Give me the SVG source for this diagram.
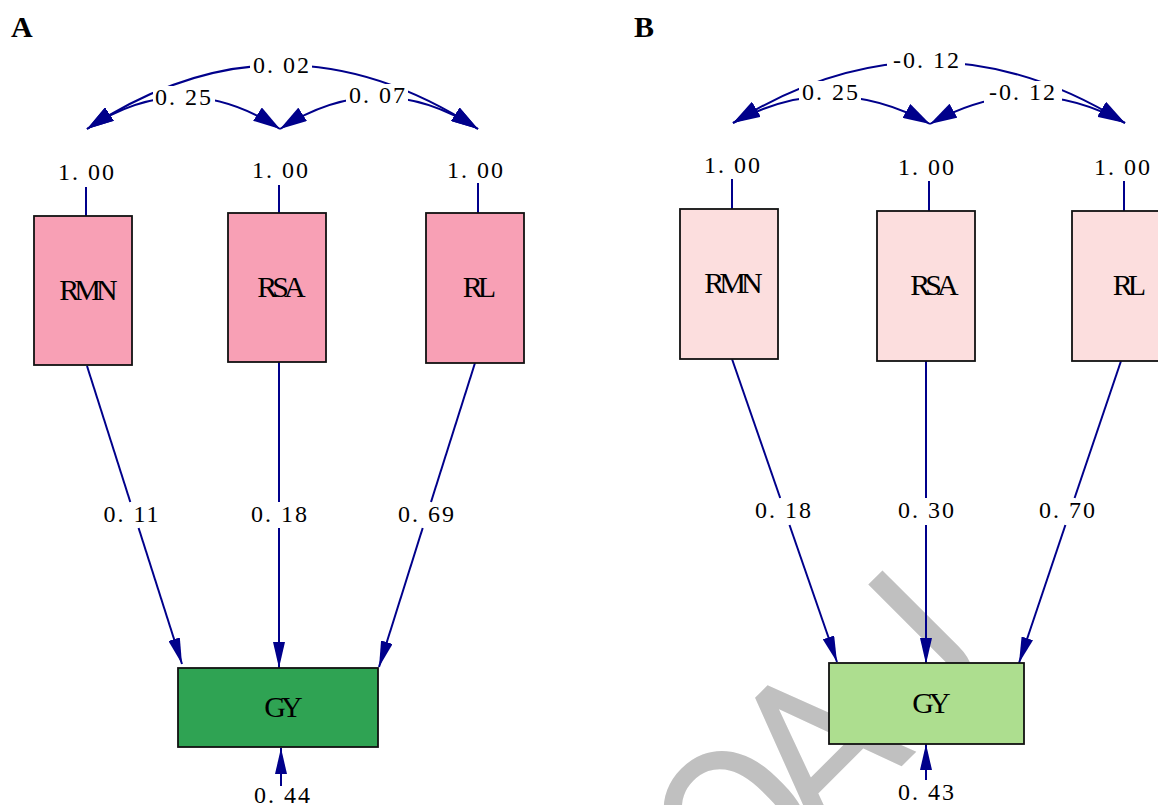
<svg xmlns="http://www.w3.org/2000/svg" width="1158" height="805" viewBox="0 0 1158 805">
  <style>
    .num { font-family: "Liberation Serif", "Times New Roman", serif; font-size: 24px; letter-spacing: 2px; fill: #000; text-anchor: middle; }
    .name { font-family: "Liberation Serif", "Times New Roman", serif; font-size: 30px; letter-spacing: -5px; fill: #000; text-anchor: middle; }
    .panel { font-family: "Liberation Serif", "Times New Roman", serif; font-size: 30px; font-weight: bold; fill: #000; }
    .box { stroke: #111; stroke-width: 1.8; }
    .obsA { fill: #F8A0B5; }
    .obsB { fill: #FCDEDE; }
    .gyA { fill: #2FA353; }
    .gyB { fill: #ADDE8F; }
    .edge { fill: none; stroke: #00008B; stroke-width: 2; }
    .path { marker-end: url(#arrow); }
    .cov { marker-start: url(#covhead); marker-end: url(#covhead); }
    .bg { fill: #fff; }
    .wm { font-family: Roboto, "Liberation Sans", sans-serif; font-size: 214px; fill: #C0C0C0; }
  </style>
  <defs>
    <!-- head for directed paths -->
    <marker id="arrow" markerUnits="userSpaceOnUse" markerWidth="26" markerHeight="12" refX="26" refY="6" orient="auto">
      <path d="M0,0 L26,6 L0,12 z" fill="#00008B"/>
    </marker>
    <!-- heavier head for two-headed covariance arcs -->
    <marker id="covhead" markerUnits="userSpaceOnUse" markerWidth="27" markerHeight="16" refX="27" refY="8" orient="auto-start-reverse">
      <path d="M0,0 L27,8 L0,16 z" fill="#00008B"/>
    </marker>
  </defs>

  <rect width="1158" height="805" fill="#fff"/>

  <!-- background watermark -->
  <g id="watermark">
    <text class="wm" x="717" y="951" transform="rotate(-45 717 951)"><tspan dx="30">O</tspan><tspan dx="-30">A</tspan>J</text>
  </g>

  <!-- panel letters -->
  <text class="panel" x="11" y="37">A</text>
  <text class="panel" x="634" y="37">B</text>

  <!-- connectors -->
  <g id="connectors">
    <!-- panel A: covariances -->
    <path class="edge cov" d="M87,129 Q281,1 478,129"/>
    <path class="edge cov" d="M87,129 Q183,65 280,129"/>
    <path class="edge cov" d="M280,129 Q379,65 478,129"/>
    <!-- panel A: variance ticks -->
    <path class="edge" d="M86,187 V216 M279,185 V213 M478,183 V213"/>
    <!-- panel A: paths to GY -->
    <path class="edge" d="M87,366 L130.3,502"/>
    <path class="edge path" d="M138.6,528 L182,664"/>
    <path class="edge" d="M279,362 V502"/>
    <path class="edge path" d="M279,528 V668"/>
    <path class="edge" d="M475,363 L431,502"/>
    <path class="edge path" d="M422.7,528 L379,667"/>
    <!-- panel A: residual -->
    <path class="edge path" d="M281,786 V748"/>

    <!-- panel B: covariances -->
    <path class="edge cov" d="M733,123 Q929,1 1125,123"/>
    <path class="edge cov" d="M733,123 Q831,69 930,124"/>
    <path class="edge cov" d="M930,124 Q1027,69 1125,123"/>
    <!-- panel B: variance ticks -->
    <path class="edge" d="M732,179 V209 M929,181 V211 M1124,181 V211"/>
    <!-- panel B: paths to GY -->
    <path class="edge" d="M732,359 L780.2,498"/>
    <path class="edge path" d="M789.5,525 L837,662"/>
    <path class="edge" d="M926,361 V498"/>
    <path class="edge path" d="M926,525 V664"/>
    <path class="edge" d="M1121,361 L1074.6,498"/>
    <path class="edge path" d="M1065.4,525 L1019,663"/>
    <!-- panel B: residual -->
    <path class="edge path" d="M926,780 V744"/>
  </g>

  <!-- edge labels -->
  <g id="labels">
    <rect class="bg" x="250" y="54" width="62" height="22"/>
    <text class="num" x="282" y="73">0. 02</text>
    <rect class="bg" x="153" y="86" width="62" height="22"/>
    <text class="num" x="184" y="105">0. 25</text>
    <rect class="bg" x="346" y="84" width="62" height="22"/>
    <text class="num" x="378" y="103">0. 07</text>
    <text class="num" x="87" y="180">1. 00</text>
    <text class="num" x="281" y="178">1. 00</text>
    <text class="num" x="476" y="178">1. 00</text>
    <text class="num" x="132" y="522">0. 11</text>
    <text class="num" x="280" y="522">0. 18</text>
    <text class="num" x="427" y="522">0. 69</text>
    <text class="num" x="283" y="803">0. 44</text>

    <rect class="bg" x="887" y="49" width="78" height="22"/>
    <text class="num" x="927" y="68">-0. 12</text>
    <rect class="bg" x="799" y="81" width="62" height="22"/>
    <text class="num" x="831" y="100">0. 25</text>
    <rect class="bg" x="984" y="81" width="78" height="22"/>
    <text class="num" x="1023" y="100">-0. 12</text>
    <text class="num" x="733" y="173">1. 00</text>
    <text class="num" x="927" y="175">1. 00</text>
    <text class="num" x="1123" y="175">1. 00</text>
    <text class="num" x="784" y="518">0. 18</text>
    <text class="num" x="927" y="518">0. 30</text>
    <text class="num" x="1068" y="518">0. 70</text>
    <text class="num" x="927" y="800">0. 43</text>
  </g>

  <!-- panel A nodes -->
  <g id="A_RMN">
    <rect class="box obsA" x="34" y="216" width="98" height="149"/>
    <text class="name" x="86" y="300">RMN</text>
  </g>
  <g id="A_RSA">
    <rect class="box obsA" x="228" y="213" width="98" height="149"/>
    <text class="name" x="279" y="297">RSA</text>
  </g>
  <g id="A_RL">
    <rect class="box obsA" x="426" y="213" width="98" height="150"/>
    <text class="name" x="477" y="297">RL</text>
  </g>
  <g id="A_GY">
    <rect class="box gyA" x="178" y="668" width="200" height="79"/>
    <text class="name" x="281" y="717">GY</text>
  </g>

  <!-- panel B nodes -->
  <g id="B_RMN">
    <rect class="box obsB" x="680" y="209" width="98" height="150"/>
    <text class="name" x="731" y="293">RMN</text>
  </g>
  <g id="B_RSA">
    <rect class="box obsB" x="877" y="211" width="98" height="150"/>
    <text class="name" x="932" y="295">RSA</text>
  </g>
  <g id="B_RL">
    <rect class="box obsB" x="1072" y="211" width="98" height="150"/>
    <text class="name" x="1127" y="295">RL</text>
  </g>
  <g id="B_GY">
    <rect class="box gyB" x="829" y="663" width="195" height="81"/>
    <text class="name" x="929" y="713">GY</text>
  </g>
</svg>
